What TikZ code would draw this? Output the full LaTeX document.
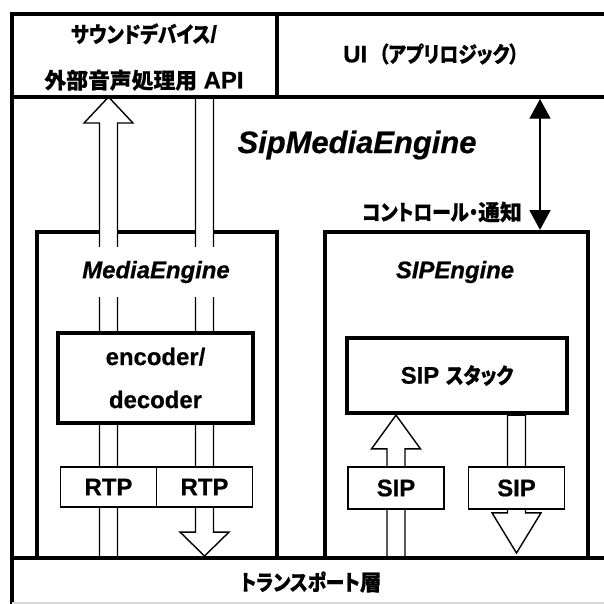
\documentclass[tikz,border=0pt]{standalone}
\usepackage{fontspec}
\setmainfont{Liberation Sans}[BoldFeatures={FakeBold=0.6}, BoldItalicFeatures={FakeBold=0.6}]
\newfontfamily\jpfont{Noto Sans CJK JP}[RawFeature=+palt, BoldFeatures={FakeBold=0.5}]
\newfontfamily\kanafont{Noto Sans CJK JP}[RawFeature=+palt, FakeStretch=0.86, BoldFeatures={FakeBold=0.5}]
\newcommand{\jp}{\jpfont\fontsize{15.5}{18}\selectfont}
\newcommand{\kana}{\kanafont\fontsize{15.5}{18}\selectfont}
\usetikzlibrary{arrows.meta,positioning,calc}

\pgfdeclarelayer{back}
\pgfdeclarelayer{front}
\pgfsetlayers{back,main,front}

\tikzset{
  heavy/.style={draw, line width=3pt},
  thinbox/.style={draw, line width=1pt, fill=white, outer sep=0pt},
  lbl/.style={font=\fontsize{17}{20}\selectfont\bfseries},
  eng/.style={font=\fontsize{17}{20}\selectfont\bfseries\itshape},
  blk/.style={draw, line width=1pt, fill=white, line join=miter},
  ctlarr/.style={{Triangle[length=14pt,width=15pt]}-{Triangle[length=14pt,width=15pt]}, line width=0.8pt},
}

% hollow block arrow: tail, tip, head length (pt)
\newcommand{\blockarrow}[3]{%
  \draw[blk] let \p1=(#1), \p2=(#2), \n1={#3*sign(\y2-\y1)} in
    (\x1-6.4pt,\y1) -- (\x1-6.4pt,\y2-\n1*1pt) -- (\x1-17.4pt,\y2-\n1*1pt)
    -- (\x1,\y2) -- (\x1+17.4pt,\y2-\n1*1pt) -- (\x1+6.4pt,\y2-\n1*1pt)
    -- (\x1+6.4pt,\y1) -- cycle;
}

\begin{document}
\begin{tikzpicture}[x=0.025cm, y=-0.025cm]
  \useasboundingbox (0,0) rectangle (604,604);
  \coordinate (top) at (0,97);
  \coordinate (bot) at (0,558);
  \coordinate (cn) at (540,99);

  % engine boxes
  \begin{pgfonlayer}{back}
    \node[heavy, minimum width=6cm, minimum height=8.15cm] (mediabox) at (157,395) {};
    \node[heavy, minimum width=6.575cm, minimum height=8.15cm] (sipbox) at (456.5,395) {};
  \end{pgfonlayer}

  \begin{pgfonlayer}{front}
    % outer layers
    \draw[heavy, line join=miter] (12,604) -- (12,14) -- (610,14);
    \draw[heavy] (12,97) -- (610,97);
    \draw[heavy] (277,14) -- (277,97);
    \draw[heavy] (12,558) -- (610,558);
    \draw[gray!30, line width=0.8pt] (12,603) -- (610,603);

    \node[lbl, align=center, font=\fontsize{17}{32.7}\selectfont\bfseries] (snd) at (144,57)
      {{\kana サウンドデバイス}/\\{\jp 外部音声処理用} API};
    \node[lbl] (ui) at (431,54) {UI\hspace{0.5em}{\kana （アプリロジック）}};
    \node[font=\fontsize{22}{26}\selectfont\bfseries\itshape] (sme) at (357,145) {SipMediaEngine};
    \node[lbl] (ctl) at (442,212) {\kana コントロール・{\jp 通知}};
    \node[lbl] (trans) at (311,582) {\kana トランスポート{\jp 層}};

    % MediaEngine
    \node[eng, fill=white, minimum height=1.25cm] (medlbl) at (156,272) {MediaEngine};
    \node[heavy, fill=white, lbl, align=center, font=\fontsize{17}{30.6}\selectfont\bfseries,
      minimum width=4.875cm, minimum height=2.25cm] (enc) at (155.5,378) {encoder/\\decoder};
    \node[thinbox, lbl, minimum width=2.4cm, minimum height=1cm] (rtpa) at (108.5,487) {RTP};
    \node[thinbox, lbl, minimum width=2.4cm, minimum height=1cm, right=0pt of rtpa] (rtpb) {RTP};

    % SIPEngine
    \node[eng] (siplbl) at (455,272) {SIPEngine};
    \node[heavy, fill=white, lbl, minimum width=5.5cm, minimum height=1.875cm] (stack) at (457,375.5)
      {SIP {\kana スタック}};
    \node[thinbox, lbl, minimum width=2.4cm, minimum height=1.05cm] (sipa) at (396,488) {SIP};
    \node[thinbox, lbl, minimum width=2.4cm, minimum height=1.05cm] (sipb) at (516.5,488) {SIP};
  \end{pgfonlayer}

  % data flows
  \blockarrow{rtpa |- bot}{rtpa |- top}{18.5}
  \blockarrow{rtpb |- top}{$(rtpb |- bot)+(0,-2)$}{17}
  \blockarrow{sipa |- bot}{sipa |- stack.south}{24}
  \blockarrow{sipb |- stack.south}{$(sipb |- bot)+(0,-5)$}{28.5}

  % control
  \draw[ctlarr] (cn) -- (cn |- sipbox.north);
\end{tikzpicture}
\end{document}
